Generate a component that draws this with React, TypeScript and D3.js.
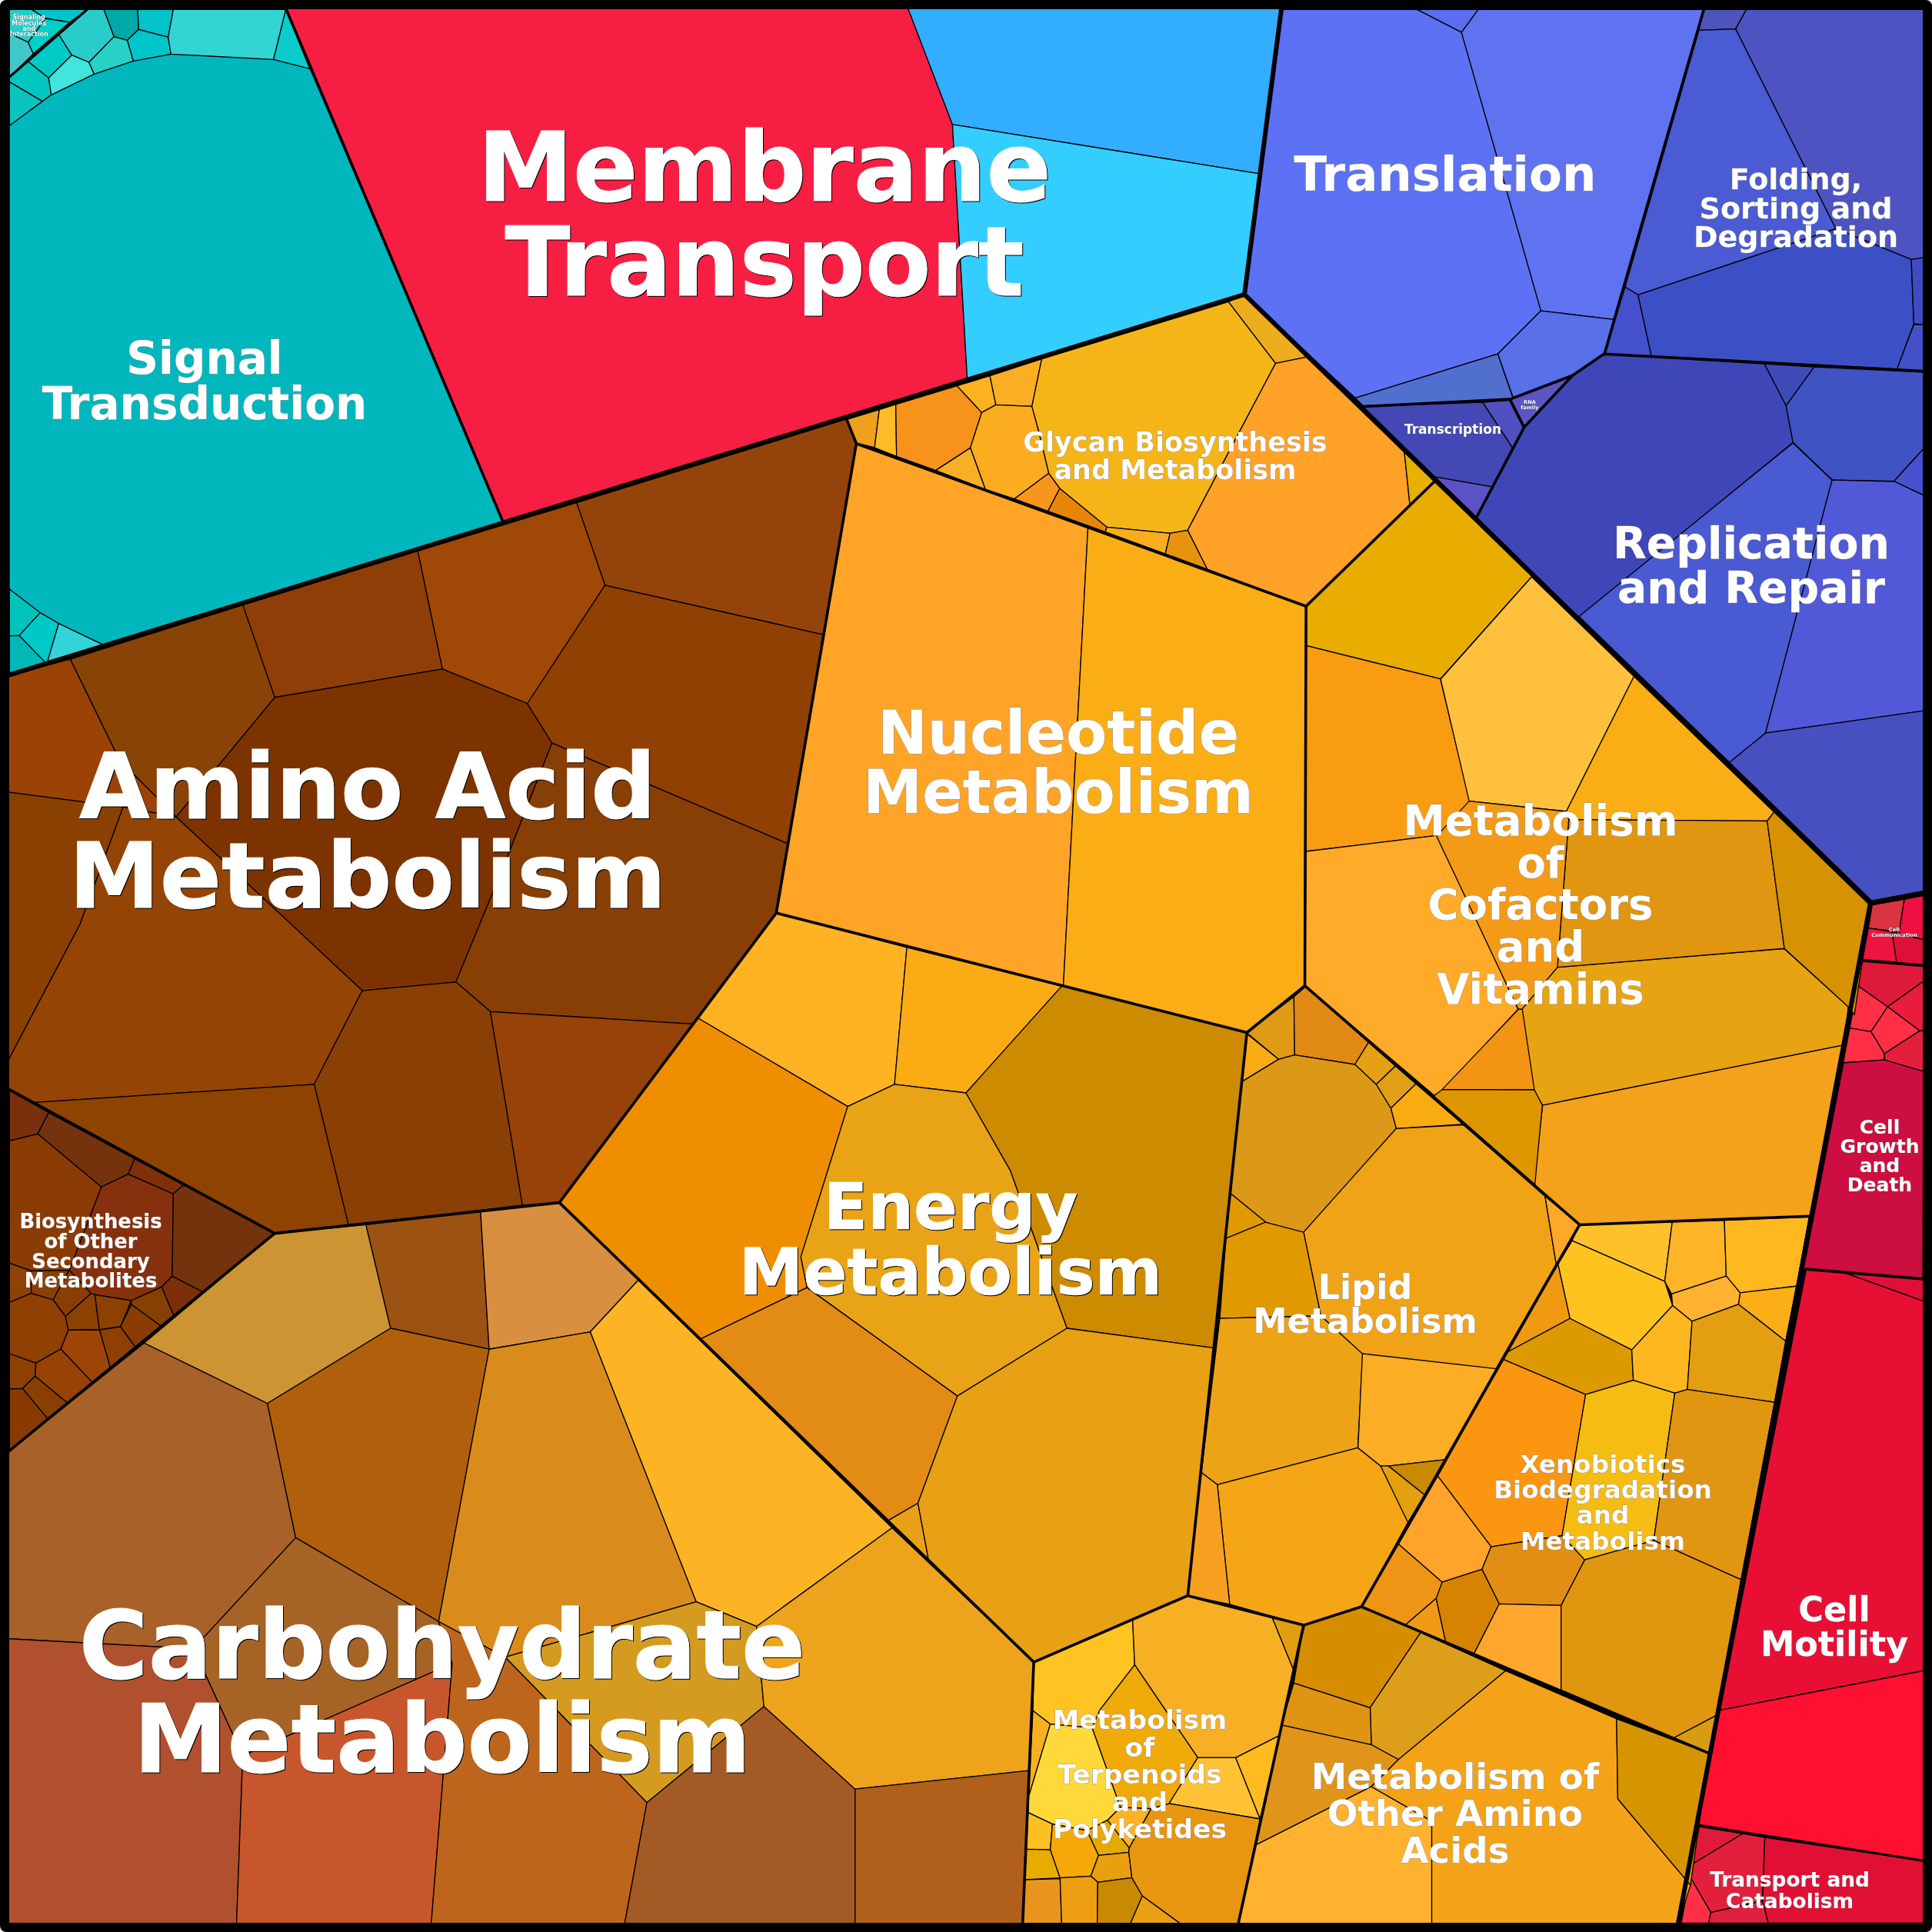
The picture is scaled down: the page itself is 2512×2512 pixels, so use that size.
import React from "react";
import * as d3 from "d3";

type Cell = [string, number[]];
type Label = { lines: string[]; x: number; y: number; size: number; lead: number };

const CANVAS = 2512;
const INNER = [12, 2500];

// Reading frames: each list of cell outlines was read in one view of the picture.
const SHRUNK = { x0: 0, y0: 0, kx: 2512 / 1568, ky: 2512 / 1568 };
const FULL = { x0: 0, y0: 0, kx: 1, ky: 1 };
const V1 = { x0: 0, y0: 0, kx: 1 / 3, ky: 1 / 3 };
const V2 = { x0: 0, y0: 1400, kx: 1 / 3, ky: 1 / 3 };
const V3 = { x0: 1080, y0: 380, kx: 800 / 1568, ky: 1 / 3 };
const V5 = { x0: 2340, y0: 1140, kx: 1 / 3, ky: 1 / 3 };
const V6 = { x0: 1300, y0: 2080, kx: 1 / 3, ky: 1 / 3 };
const V7 = { x0: 1560, y0: 1270, kx: 1 / 3, ky: 1 / 3 };
const V8 = { x0: 1740, y0: 1560, kx: 640 / 1568, ky: 640 / 1568 };
const V9 = { x0: 2160, y0: 2340, kx: 1 / 3, ky: 1 / 3 };
const V10 = { x0: 1632, y0: 0, kx: 880 / 1568, ky: 880 / 1568 };
const V11 = { x0: 1812, y0: 480, kx: 700 / 1568, ky: 700 / 1568 };
const V12 = { x0: 0, y0: 740, kx: 1 / 3, ky: 1 / 3 };

const membraneCells: Cell[] = [
  ["#f61f43", [232,7,737,7,773,101,785,307,408,423]],
  ["#33adff", [737,7,1040,7,1022,141,773,101]],
  ["#33ceff", [773,101,1022,141,1010,239,785,307]],
];
const signalMain: Cell[] = [
  ["#00b7bd", [12,163,55,132,67,123,122,96,173,79,222,70,356,77,403,89,654,678,134,838,76,811,52,797,12,766]],
];
const signalTop: Cell[] = [
  ["#20cfcf", [37,37,125,37,178,72,110,165,37,130]],
  ["#3fc9c9", [37,130,110,165,130,210,37,300]],
  ["#00c4cc", [125,37,340,37,272,87,178,72]],
  ["#00d0c8", [178,72,272,87,130,210,110,165]],
  ["#00c8c0", [37,300,110,240,190,304,200,370,165,395,37,320]],
  ["#0ac4c0", [37,320,165,395,37,490]],
  ["#00c9c6", [110,240,230,135,280,215,190,304]],
  ["#2accc9", [230,135,340,37,405,37,445,143,347,243,280,215]],
  ["#40e5dd", [190,304,280,215,347,243,367,289,200,370]],
  ["#27d1c6", [347,243,445,143,497,157,520,238,367,289]],
  ["#00a8a8", [405,37,537,37,541,115,497,157,445,143]],
  ["#00c4c9", [537,37,676,37,656,145,541,115]],
  ["#00c6cc", [541,115,656,145,667,211,520,238,497,157]],
  ["#33d4d4", [676,37,1115,37,1067,232,667,211,656,145]],
  ["#0acccc", [1115,37,1208,268,1067,232]],
];
const signalBottom: Cell[] = [
  ["#00c3bc", [37,78,157,170,75,259,37,260]],
  ["#00b8b8", [37,260,75,259,178,365,37,405]],
  ["#00c8c8", [157,170,229,212,185,362,178,365,75,259]],
  ["#33d4d6", [229,212,402,295,185,362]],
];
const translationCells: Cell[] = [
  ["#5b6ef0", [375,22,517,22,478,75]],
  ["#5d71f4", [62,22,375,22,478,75,662,720,562,820,232,922,-25,682]],
  ["#5f73f0", [517,22,1038,22,830,740,662,720,478,75]],
  ["#5870e8", [662,720,830,740,808,820,735,870,598,922,562,820]],
  ["#516fcf", [232,922,562,820,598,925,250,940]],
];
const transcriptionCells: Cell[] = [
  ["#4348b5", [250,942,527,932,598,1040,550,1128,417,1105]],
  ["#5050c0", [527,932,590,927,623,990,598,1040]],
  ["#5a55c2", [590,925,735,870,623,990]],
  ["#5c52c5", [417,1105,550,1128,513,1198]],
];
const foldingCells: Cell[] = [
  ["#4f54bb", [1038,22,1138,22,1113,67,1028,70]],
  ["#4d54c2", [1138,22,1548,22,1548,597,1520,601,1345,530,1113,67]],
  ["#4a5bd3", [1028,70,1113,67,1345,530,887,683,857,665]],
  ["#4450cc", [857,665,887,683,918,825,808,820]],
  ["#3c50c5", [887,683,1345,530,1520,601,1526,750,1487,855,918,825]],
  ["#3f4bc2", [1520,601,1548,597,1548,752,1526,750]],
  ["#4350c8", [1526,752,1548,752,1548,860,1487,855]],
];
const replicationTop: Cell[] = [
  ["#3f47b8", [808,820,1180,843,1230,940,1246,1025,750,1430,513,1198,623,990,735,870]],
  ["#3f4bb8", [1180,843,1295,850,1230,940]],
  ["#3f53c3", [1295,850,1548,862,1548,1040,1480,1115,1337,1112,1246,1025,1230,940]],
  ["#4750d0", [1480,1115,1548,1040,1548,1147]],
];
const replicationLow: Cell[] = [
  ["#4a5ad2", [1163,215,1277,323,1083,1060,978,1145,540,720]],
  ["#5259d8", [1277,323,1458,327,1543,367,1543,995,1083,1060]],
  ["#4750c0", [1083,1060,1543,995,1543,1520,1392,1548,978,1145]],
];
const commCells: Cell[] = [
  ["#d93440", [283,110,408,88,388,215,268,200]],
  ["#ee1040", [408,88,482,73,482,245,360,215,388,215]],
  ["#ee1440", [268,200,360,215,378,333,245,323]],
  ["#dd1038", [360,215,482,245,482,343,378,335]],
];
const growthSmall: Cell[] = [
  ["#dd1a3a", [245,330,482,350,482,408,343,507,227,425]],
  ["#e81c3c", [343,507,482,408,482,600,468,601]],
  ["#ff3045", [227,425,343,507,278,604,195,590]],
  ["#ff3045", [343,507,468,601,330,690,278,604]],
  ["#ff3045", [195,590,278,604,330,690,330,715,170,725]],
  ["#e2203e", [468,601,482,600,482,760,332,715,330,690]],
];
const growthMain: Cell[] = [
  ["#cc0f40", [2397,1382,2450,1378,2501,1393,2500,1663,2345,1650]],
];
const motilityCells: Cell[] = [
  ["#e00f3a", [1466,1030,1561,1038,1561,1056,1497,1033]],
  ["#e80f35", [1466,1030,1497,1033,1561,1056,1561,1356,1396,1388]],
  ["#ff1030", [1396,1388,1561,1356,1561,1511,1378,1481]],
];
const catabolismCells: Cell[] = [
  ["#df1a3a", [148,105,318,132,120,252]],
  ["#e2203e", [318,132,404,147,395,395,193,440,112,300,120,252]],
  ["#e01035", [404,147,1022,238,1022,481,417,481,395,395]],
  ["#ff3045", [112,300,193,440,185,481,78,481]],
  ["#df2040", [193,440,395,395,417,481,185,481]],
];
const aminoCells: Cell[] = [
  ["#94440a", [687,340,695,360,668,515,491,475,468,408]],
  ["#a04806", [468,408,339,447,359,543,428,571,491,475]],
  ["#8f3e08", [339,447,197,491,223,566,359,543]],
  ["#8a4306", [197,491,57,535,97,617,143,663,223,566]],
  ["#9b4206", [7,548,57,535,97,617,143,663,100,655,7,643]],
  ["#7d3300", [223,566,359,543,428,571,448,603,410,700,370,797,294,804,143,663]],
  ["#914004", [428,571,491,475,668,515,640,685,448,603]],
  ["#883f05", [448,603,640,685,630,741,562,831,398,821,370,797,410,700]],
  ["#8a4000", [7,643,100,655,65,750,7,860]],
  ["#944405", [100,655,143,663,294,804,255,880,24,895,7,884,7,860,65,750]],
  ["#8a3f05", [294,804,370,797,398,821,424,978,283,995,255,880]],
  ["#974208", [398,821,562,831,454,976,424,978]],
  ["#8f4300", [24,895,255,880,283,995,223,1001]],
];
const biosynthCells: Cell[] = [
  ["#7a300c", [37,52,190,140,147,223,37,250]],
  ["#75330d", [190,140,525,320,500,380,395,430,147,223]],
  ["#803009", [525,320,715,422,676,457,500,380]],
  ["#87300d", [395,430,500,380,676,457,672,778,630,820,512,873,370,850,355,845,270,755]],
  ["#74330d", [715,422,1075,612,792,840,672,778,676,457]],
  ["#7c2f08", [672,778,792,840,678,932,630,820]],
  ["#8a3c04", [37,250,147,223,395,430,270,755,122,757,37,727]],
  ["#8e4204", [37,727,122,757,122,845,37,880]],
  ["#8a3f04", [122,757,270,755,207,870,122,845]],
  ["#8a3e04", [270,755,355,845,255,935,207,870]],
  ["#8c4002", [355,845,370,850,388,985,266,988,255,935]],
  ["#8e4002", [370,850,512,873,470,975,388,987]],
  ["#854002", [512,873,630,820,678,932,628,973,512,888]],
  ["#8a3c02", [512,888,628,973,528,1055,470,975]],
  ["#8f3f02", [388,987,470,975,528,1055,430,1135]],
  ["#9c4507", [266,988,388,987,430,1135,360,1192,237,1062]],
  ["#904002", [37,880,122,845,207,870,255,935,266,988,237,1062,140,1117,37,1080]],
  ["#8c4002", [37,1080,140,1117,137,1168,88,1216,37,1218]],
  ["#964305", [140,1117,237,1062,360,1192,262,1272,137,1168]],
  ["#8a3f02", [88,1216,137,1168,262,1272,185,1333]],
  ["#883a00", [37,1218,88,1216,185,1333,37,1460]],
];
const carbCells: Cell[] = [
  ["#cc9433", [223,1001,297,994,317,1078,217,1139,117,1090]],
  ["#9c5212", [297,994,390,983,397,1095,317,1078]],
  ["#d98f40", [390,983,454,976,518,1039,479,1081,397,1095]],
  ["#fcb424", [518,1039,724,1240,614,1320,565,1300,479,1081]],
  ["#a86128", [117,1090,217,1139,240,1248,157,1338,7,1330,7,1178]],
  ["#b05f0c", [217,1139,317,1078,397,1095,356,1316,240,1248]],
  ["#d98c1c", [397,1095,479,1081,565,1300,410,1345,356,1316]],
  ["#a66326", [240,1248,356,1316,367,1350,197,1425,157,1338]],
  ["#d59a20", [410,1345,565,1300,614,1320,620,1385,525,1463]],
  ["#b0502e", [7,1330,157,1338,197,1425,192,1561,7,1561]],
  ["#c8562c", [197,1425,367,1350,350,1561,192,1561]],
  ["#bd651c", [356,1316,410,1345,525,1463,507,1561,350,1561,367,1350]],
  ["#a35a25", [525,1463,620,1385,694,1452,694,1561,507,1561]],
  ["#eda31c", [620,1385,614,1320,724,1240,839,1349,835,1437,694,1452]],
  ["#b0601a", [694,1452,835,1437,830,1561,694,1561]],
];
const nucleotideCells: Cell[] = [
  ["#ffa427", [695,360,883,428,863,800,630,741]],
  ["#fbad15", [883,428,1060,492,1059,800,1012,838,863,800]],
];
const energyCells: Cell[] = [
  ["#ffb322", [630,741,736,769,726,880,688,898,566,826]],
  ["#fbab14", [736,769,862,800,784,887,726,880]],
  ["#ee8e00", [566,826,688,898,650,1020,655,1045,568,1087,454,976]],
  ["#e8a317", [688,898,726,880,784,887,820,950,866,1078,777,1133,655,1045,650,1020]],
  ["#cc8b00", [784,887,862,800,1012,838,985,1094,866,1078,820,950]],
  ["#e28b15", [568,1087,655,1045,777,1133,745,1220,721,1234]],
  ["#e8a018", [721,1234,745,1220,754,1268]],
  ["#e8a014", [777,1133,866,1078,985,1094,964,1295,839,1349,754,1268,745,1220]],
];
const glycanCells: Cell[] = [
  ["#efa01c", [40,497,124,458,112,606,64,588]],
  ["#ffbc28", [124,458,166,438,168,640,112,606]],
  ["#f7931a", [166,438,322,365,385,469,356,607,268,695,168,640]],
  ["#fdb31f", [322,365,406,326,421,439,385,469]],
  ["#fbae24", [406,326,538,260,513,445,421,439]],
  ["#fbac1f", [385,469,421,439,513,445,530,540,556,706,468,806,394,768,356,607]],
  ["#f8af28", [356,607,394,768,268,695]],
  ["#f7951e", [556,706,584,765,554,854,468,806]],
  ["#e88508", [584,765,704,916,700,935,554,854]],
  ["#f5b518", [538,260,1014,37,1134,277,1050,520,910,928,865,940,704,916,584,765,556,706,530,540,513,445]],
  ["#edae1e", [1014,37,1057,5,1212,253,1134,277]],
  ["#f7ad1e", [704,916,865,940,853,1020,700,935]],
  ["#e8930f", [865,940,910,928,960,1080,853,1020]],
  ["#ffa227", [1134,277,1212,253,1462,622,1476,828,1211,1224,960,1080,910,928,1050,520]],
  ["#e8b000", [1462,622,1538,737,1476,828]],
];
const lipidTop: Cell[] = [
  ["#df9a16", [183,218,367,78,370,305,307,322]],
  ["#e08a15", [367,78,413,38,658,256,605,342,370,305]],
  ["#e5a014", [605,342,658,256,763,348,688,420]],
  ["#e09f16", [688,420,763,348,843,418,745,513]],
  ["#f9ab12", [745,513,843,418,1028,575,766,592]],
  ["#f9ab12", [183,222,307,322,163,410]],
  ["#db9917", [163,410,307,322,370,305,605,342,688,420,745,513,766,592,407,1000,258,958,120,845]],
  ["#e09a00", [120,845,258,958,102,1020]],
];
const lipidMain: Cell[] = [
  ["#f0a316", [1133,916,1188,913,1254,971,1263,1026,1214,1111,1106,1099,1072,1068,1058,1000]],
  ["#ffa827", [1254,971,1282,994,1263,1026]],
  ["#e09a00", [995,1005,1027,992,1058,1000,1072,1068,990,1070]],
  ["#eca315", [990,1070,1072,1068,1106,1099,1102,1175,988,1205,975,1195]],
  ["#f4a617", [988,1205,1102,1175,1121,1190,1143,1235,1105,1304,1058,1319,998,1302]],
  ["#f7a01f", [975,1195,988,1205,998,1302,964,1295]],
];
const lipidRight: Cell[] = [
  ["#faad25", [77,490,503,538,340,828,160,848,135,848,63,790]],
  ["#c98a00", [160,848,340,828,275,940]],
  ["#e5a010", [135,848,160,848,275,940,222,1028]],
];
const cofactorMain: Cell[] = [
  ["#e8ad00", [1060,492,1165,390,1244,467,1169,551,1060,524]],
  ["#f99c11", [1060,524,1169,551,1193,651,1167,678,1060,691]],
  ["#ffab29", [1060,691,1167,678,1232,819,1171,885,1164,889,1059,800]],
  ["#e8a312", [1235,819,1264,785,1448,770,1500,817,1497,848,1252,897,1245,885]],
  ["#f4a21b", [1252,897,1497,848,1469,987,1282,994,1245,961]],
];
const cofactorRight: Cell[] = [
  ["#ffc13d", [402,605,700,895,503,1288,220,1258,137,903]],
  ["#f8ae14", [700,895,1108,1290,1088,1316,510,1312,503,1288]],
  ["#e09610", [510,1312,1088,1316,1138,1687,477,1742]],
  ["#d69200", [1088,1316,1108,1290,1390,1552,1342,1880,1324,1857,1138,1687]],
  ["#f39a16", [220,1258,503,1288,510,1312,477,1742,374,1864,363,1864,125,1360]],
];
const cofactorLow: Cell[] = [
  ["#f39414", [945,440,1243,127,1258,127,1305,441]],
  ["#dd9600", [913,465,945,440,1305,441,1336,501,1307,810]],
];
const xenoCells: Cell[] = [
  ["#ffc12a", [768,78,1064,70,1040,260,745,130]],
  ["#fdb427", [1064,70,1230,65,1236,243,1062,300,1040,260]],
  ["#ffb81f", [1230,65,1500,55,1460,275,1280,296,1236,243]],
  ["#fbae17", [1460,275,1425,450,1275,333,1280,296]],
  ["#ffb230", [1062,300,1236,243,1280,296,1275,333,1127,387,1065,337]],
  ["#ffc320", [745,130,1040,260,1065,337,935,478,738,378,700,205]],
  ["#f09a14", [700,205,738,378,530,490]],
  ["#dc9a00", [525,508,530,490,738,378,935,478,940,575,788,620]],
  ["#feb71f", [935,478,1065,337,1127,387,1112,604,1072,616,940,575]],
  ["#e49e12", [1127,387,1275,333,1425,450,1390,645,1112,604]],
  ["#fa9610", [525,508,788,620,713,1070,487,1105,317,880]],
  ["#f5bc13", [788,620,940,575,1072,616,1005,1085,785,1147,713,1070]],
  ["#e19612", [1072,616,1112,604,1390,645,1283,1210,1005,1085]],
  ["#ffa42a", [317,880,487,1105,458,1177,331,1218,192,1097]],
  ["#ee9515", [192,1097,331,1218,312,1270,213,1355,75,1297]],
  ["#f09a16", [213,1355,312,1270,343,1412]],
  ["#d58300", [312,1270,331,1218,458,1177,513,1287,432,1447,343,1412]],
  ["#e28e15", [487,1105,713,1070,785,1147,710,1292,513,1287,458,1177]],
  ["#ffa72d", [513,1287,710,1292,710,1565,432,1447]],
  ["#e0960f", [710,1292,785,1147,1005,1085,1283,1210,1209,1640,1067,1715,710,1565]],
  ["#d89c10", [1209,1640,1181,1765,1067,1715]],
];
const otherAminoCells: Cell[] = [
  ["#d68e00", [1058,1319,1105,1304,1153,1325,1112,1386,1050,1366]],
  ["#dd9e1a", [1153,1325,1222,1356,1135,1428,1113,1416,1112,1386]],
  ["#df9512", [1050,1366,1112,1386,1113,1416,1040,1400]],
  ["#e0951a", [1040,1400,1113,1416,1135,1428,1113,1450,1018,1498]],
  ["#feb22f", [1018,1498,1113,1450,1162,1478,1162,1561,1005,1561]],
  ["#f4a318", [1135,1428,1222,1356,1312,1395,1313,1460,1372,1530,1362,1561,1162,1561,1162,1478,1113,1450]],
  ["#d69500", [1312,1395,1387,1423,1372,1530,1313,1460]],
];
const terpenoidCells: Cell[] = [
  ["#ffc422", [133,243,518,78,526,254,390,430,360,500,197,485,129,433]],
  ["#f7b024", [518,78,733,-16,1062,68,1145,272,1090,530,920,616,772,616,526,254]],
  ["#e29e10", [1062,68,1190,97,1145,272]],
  ["#f0aa0a", [526,254,772,616,660,795,590,815,470,810,360,500,390,430]],
  ["#ffc235", [772,616,920,616,1015,855,660,795]],
  ["#ffbb1f", [920,616,1090,530,1015,855]],
  ["#f7b020", [129,433,197,485,112,770]],
  ["#ffd83a", [197,485,360,500,470,810,420,860,340,900,205,875,110,830,112,770]],
  ["#ffbe22", [110,830,205,875,197,975,103,973]],
  ["#e8ac00", [103,973,197,975,235,1085,98,1092]],
  ["#f6a80a", [197,975,205,875,340,900,385,997,355,1078,235,1085]],
  ["#e5aa00", [340,900,420,860,505,968,503,985,385,997]],
  ["#fcb425", [420,860,470,810,590,815,505,968]],
  ["#ea9f0e", [385,997,503,985,515,1084,382,1102,355,1078]],
  ["#e8951f", [98,1092,235,1088,241,1262,90,1262]],
  ["#ee9e12", [235,1085,355,1078,382,1102,380,1262,241,1262]],
  ["#c88a00", [382,1102,515,1084,556,1155,510,1262,380,1262]],
  ["#eb9f13", [556,1155,703,1262,510,1262]],
  ["#e8960f", [590,815,660,795,1015,855,930,1262,703,1262,556,1155,515,1084,503,985,505,968]],
];

// Borders between pathways (thin) and between top-level categories (thick).
const categoryBorders: number[][] = [
  [7,548,1010,239],
  [1040,7,1010,239,1518,733,1561,725],
  [1518,733,1362,1561],
];
const pathwayBorders: number[][] = [
  [232,7,408,423],
  [687,340,695,360,630,741,454,976,223,1001,7,884],
  [223,1001,7,1178],
  [454,976,839,1349,830,1561],
  [695,360,1060,492,1059,800,1012,838,630,741],
  [1060,492,1165,390],
  [1012,838,964,1295,839,1349],
  [1059,800,1282,994,1105,1304,1058,1319,964,1295],
  [1282,994,1469,987],
  [1105,1304,1387,1423],
  [1058,1319,1005,1561],
  [1383,7,1302,288],
  [1466,1030,1561,1038],
];
const upperBorders: number[][] = [
  [808,820,735,870,623,990,513,1198],
  [245,942,590,925,735,870],
  [590,925,623,990],
  [808,820,1548,860],
];
const signalingBorders: number[][] = [[340,37,37,300]];
const commBorders: number[][] = [[245,325,482,345]];
const catabolismBorders: number[][] = [[150,100,1022,238]];

const labels: Label[] = [
  { lines: ["Membrane", "Transport"], x: 994, y: 261, size: 124.5, lead: 123 },
  { lines: ["Amino Acid", "Metabolism"], x: 478, y: 1064, size: 118.5, lead: 116 },
  { lines: ["Carbohydrate", "Metabolism"], x: 575, y: 2182, size: 122.5, lead: 122 },
  { lines: ["Nucleotide", "Metabolism"], x: 1376, y: 980, size: 77.5, lead: 77 },
  { lines: ["Energy", "Metabolism"], x: 1236, y: 1598, size: 84, lead: 85 },
  { lines: ["Signal", "Transduction"], x: 266, y: 486, size: 58, lead: 59 },
  { lines: ["Translation"], x: 1879, y: 248, size: 62.5, lead: 62 },
  { lines: ["Folding,", "Sorting and", "Degradation"], x: 2335, y: 246, size: 38, lead: 37.5 },
  { lines: ["Replication", "and Repair"], x: 2277, y: 726, size: 56.8, lead: 57.5 },
  { lines: ["Transcription"], x: 1889, y: 564, size: 17, lead: 17 },
  { lines: ["RNA", "family"], x: 1989, y: 525, size: 6.7, lead: 7 },
  { lines: ["Glycan Biosynthesis", "and Metabolism"], x: 1528, y: 587, size: 35, lead: 35.5 },
  { lines: ["Metabolism", "of", "Cofactors", "and", "Vitamins"], x: 2003, y: 1086, size: 54.5, lead: 54.7 },
  { lines: ["Lipid", "Metabolism"], x: 1775, y: 1689, size: 44.5, lead: 43.5 },
  { lines: ["Xenobiotics", "Biodegradation", "and", "Metabolism"], x: 2084, y: 1915, size: 32.7, lead: 33.2 },
  { lines: ["Metabolism", "of", "Terpenoids", "and", "Polyketides"], x: 1482, y: 2248, size: 34.6, lead: 35.5 },
  { lines: ["Metabolism of", "Other Amino", "Acids"], x: 1892, y: 2326, size: 46.7, lead: 48 },
  { lines: ["Biosynthesis", "of Other", "Secondary", "Metabolites"], x: 118, y: 1597, size: 25.9, lead: 25.8 },
  { lines: ["Signaling", "Molecules", "and", "Interaction"], x: 37.7, y: 25.3, size: 8, lead: 7.3 },
  { lines: ["Cell", "Communication"], x: 2463, y: 1211, size: 6.8, lead: 7 },
  { lines: ["Cell", "Growth", "and", "Death"], x: 2444, y: 1474, size: 25, lead: 25 },
  { lines: ["Cell", "Motility"], x: 2385, y: 2108, size: 44.5, lead: 45 },
  { lines: ["Transport and", "Catabolism"], x: 2327, y: 2452.7, size: 26.4, lead: 28.3 },
];

const layers: [typeof FULL, Cell[]][] = [
  [SHRUNK, membraneCells], [FULL, signalMain], [V1, signalTop], [V12, signalBottom],
  [V10, translationCells], [V10, transcriptionCells], [V10, foldingCells], [V10, replicationTop], [V11, replicationLow],
  [V5, commCells], [V5, growthSmall], [FULL, growthMain], [SHRUNK, motilityCells], [V9, catabolismCells],
  [SHRUNK, aminoCells], [V2, biosynthCells], [SHRUNK, carbCells], [SHRUNK, nucleotideCells], [SHRUNK, energyCells],
  [V3, glycanCells], [V7, lipidTop], [SHRUNK, lipidMain], [V8, lipidRight],
  [SHRUNK, cofactorMain], [V11, cofactorRight], [V7, cofactorLow],
  [V8, xenoCells], [SHRUNK, otherAminoCells], [V6, terpenoidCells],
];

const borderLayers: [typeof FULL, number[][], number][] = [
  [SHRUNK, pathwayBorders, 3.6],
  [V10, upperBorders, 3.6],
  [V1, signalingBorders, 3.2],
  [V5, commBorders, 2.8],
  [V9, catabolismBorders, 3],
  [SHRUNK, categoryBorders, 6],
];

function toPairs(flat: number[]): [number, number][] {
  const out: [number, number][] = [];
  for (let i = 0; i < flat.length; i += 2) out.push([flat[i], flat[i + 1]]);
  return out;
}

function pathMaker(f: typeof FULL, closed: boolean) {
  const x = d3.scaleLinear().domain([0, 1]).range([f.x0, f.x0 + f.kx]);
  const y = d3.scaleLinear().domain([0, 1]).range([f.y0, f.y0 + f.ky]);
  const line = d3.line<[number, number]>().x((d) => x(d[0])).y((d) => y(d[1]));
  return (flat: number[]) => (line(toPairs(flat)) || "") + (closed ? "Z" : "");
}

export default function App() {
  const w = INNER[1] - INNER[0];
  return (
    <svg
      width={CANVAS}
      height={CANVAS}
      viewBox={`0 0 ${CANVAS} ${CANVAS}`}
      style={{ position: "absolute", left: 0, top: 0, display: "block" }}
    >
      <defs>
        <clipPath id="inner">
          <rect x={INNER[0]} y={INNER[0]} width={w} height={w} />
        </clipPath>
      </defs>
      <rect width={CANVAS} height={CANVAS} rx={8} fill="#000" />
      <g clipPath="url(#inner)">
        {layers.map(([frame, cells], i) => {
          const path = pathMaker(frame, true);
          return (
            <g key={i}>
              {cells.map(([fill, pts], j) => (
                <path key={j} d={path(pts)} fill={fill} stroke="#000" strokeWidth={1.3} strokeLinejoin="round" />
              ))}
            </g>
          );
        })}
        {borderLayers.map(([frame, lines, sw], i) => {
          const path = pathMaker(frame, false);
          return (
            <g key={i} fill="none" stroke="#000" strokeWidth={sw} strokeLinejoin="round" strokeLinecap="round">
              {lines.map((pts, j) => (
                <path key={j} d={path(pts)} />
              ))}
            </g>
          );
        })}
      </g>
      <g fontFamily="'DejaVu Sans'" fontWeight="bold" textAnchor="middle" fill="#fff" stroke="#fff">
        {labels.map((l, i) => {
          const off = Math.max(0.5, l.size * 0.012);
          return (
            <g
              key={i}
              fontSize={l.size}
              strokeWidth={l.size * 0.008}
              style={{ filter: `drop-shadow(${off}px ${off}px 0 #000)` }}
            >
              {l.lines.map((t, j) => (
                <text key={j} x={l.x} y={l.y + j * l.lead}>{t}</text>
              ))}
            </g>
          );
        })}
      </g>
    </svg>
  );
}
